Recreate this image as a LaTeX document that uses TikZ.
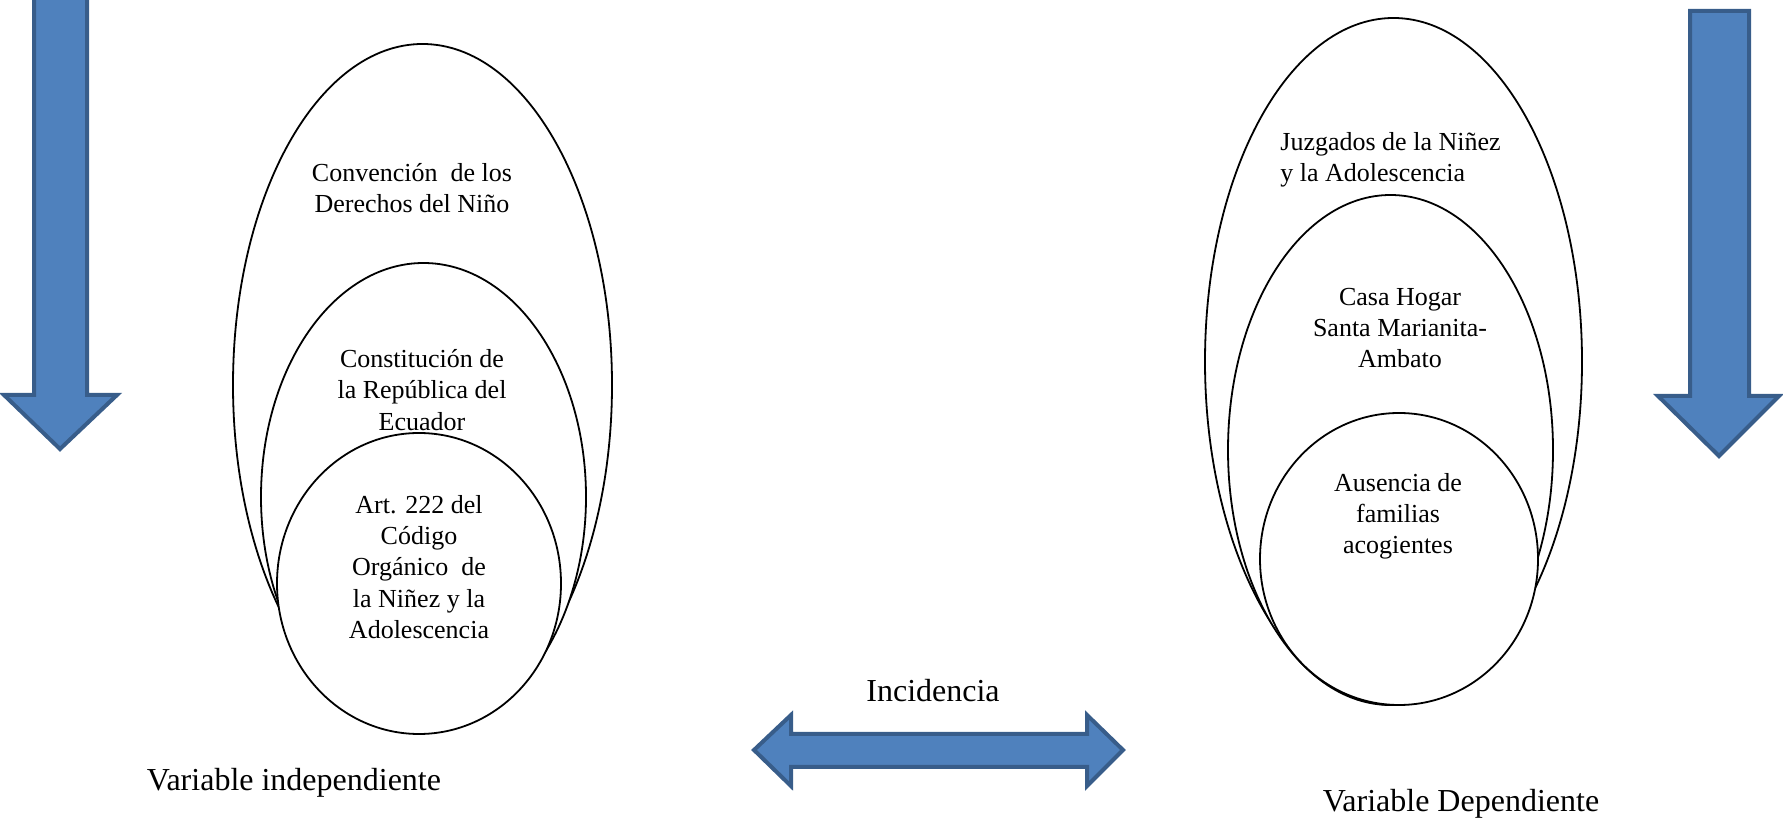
\documentclass[tikz,border=0pt]{standalone}
\usepackage{fontspec}
\setmainfont{Liberation Serif}
\usetikzlibrary{shapes.geometric}
\definecolor{arrowfill}{HTML}{4F81BD}
\definecolor{arrowline}{HTML}{385D8A}
\begin{document}
\begin{tikzpicture}[x=0.5pt,y=-0.5pt,
  oval/.style={ellipse, draw, line width=0.9pt, fill=white, inner sep=0pt, outer sep=0pt},
  blockarrow/.style={fill=arrowfill, draw=arrowline, line width=2pt, line join=miter, miter limit=10},
  lbl/.style={font=\fontsize{13}{15.6}\selectfont, align=center, inner sep=0pt},
  big/.style={font=\fontsize{16}{19}\selectfont, inner sep=0pt}]
\useasboundingbox (0,0) rectangle (1783,822);
\clip (0,0) rectangle (1783,822);
% block arrows
\draw[blockarrow] (34,-20) -- (87,-20) -- (87,395) -- (117,395) -- (60,449) -- (4,395) -- (34,395) -- cycle;
\draw[blockarrow] (1690,11) -- (1749,11) -- (1749,396) -- (1779,396) -- (1719,456) -- (1658,396) -- (1690,396) -- cycle;
\draw[blockarrow] (754,750) -- (791,715) -- (791,734) -- (1087,734) -- (1087,715) -- (1123,750) -- (1087,786) -- (1087,767) -- (791,767) -- (791,786) -- cycle;
% left ellipses
\node[oval, minimum width=189.5pt, minimum height=341pt] (lout) at (422.5,385) {};
\node[oval, minimum width=162.5pt, minimum height=234pt] (lmid) at (423.5,497) {};
\node[oval, minimum width=142pt, minimum height=150.5pt] (lin) at (419,583.5) {};
% right ellipses
\node[oval, minimum width=188.5pt, minimum height=343.5pt] (rout) at (1393.5,361.5) {};
\node[oval, minimum width=162.5pt, minimum height=255pt] (rmid) at (1390.5,450) {};
\node[oval, minimum width=139pt, minimum height=146pt] (rin) at (1399,559) {};
% texts
\node[lbl] (t1) at (412,188) {Convención~ de los\\Derechos del Niño};
\node[lbl] (t2) at (422,390) {Constitución de\\la República del\\Ecuador};
\node[lbl] (t3) at (419,567) {Art. 222 del\\Código\\Orgánico~ de\\la Niñez y la\\Adolescencia};
\node[lbl, align=left, anchor=west] (t4) at (1280,160) {Juzgados de la Niñez\\y la Adolescencia};
\node[lbl] (t5) at (1400,328) {Casa Hogar\\Santa Marianita-\\Ambato};
\node[lbl] (t6) at (1398,516) {Ausencia de\\familias\\acogientes};
\node[big] (vi) at (294,783) {Variable independiente};
\node[big] (vd) at (1461,804) {Variable Dependiente};
\node[big] (inc) at (933,691) {Incidencia};
\end{tikzpicture}
\end{document}
